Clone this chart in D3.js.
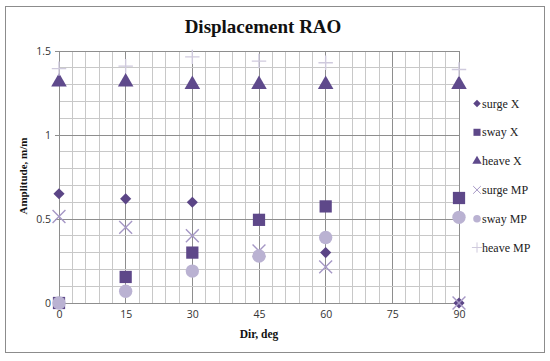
<!DOCTYPE html>
<html>
<head>
<meta charset="utf-8">
<script src="https://cdn.jsdelivr.net/npm/d3@7"></script>
<style>
  body { margin: 0; background: #fff; }
  .tick text { font-family: "Open Sans", sans-serif; font-size: 10.5px; fill: #333; }
  .ttl { font-family: "Liberation Serif", serif; font-weight: bold; fill: #111; }
  .leg { font-family: "Liberation Serif", serif; font-size: 12px; fill: #222; }
</style>
</head>
<body>
<div id="chart"></div>
<script>
// data
var dirs = [0, 15, 30, 45, 60, 90];
var surgeX  = [0.65, 0.62, 0.60, 0.50, 0.30, 0.0];
var swayX   = [0.0, 0.155, 0.30, 0.495, 0.575, 0.625];
var heaveX  = [1.315, 1.315, 1.30, 1.30, 1.30, 1.30];
var surgeMP = [0.515, 0.45, 0.40, 0.31, 0.215, 0.0];
var swayMP  = [0.0, 0.07, 0.19, 0.28, 0.39, 0.51];
var heaveMP = [1.395, 1.41, 1.465, 1.44, 1.43, 1.39];
var xTicks = [0, 15, 30, 45, 60, 75, 90];
var yTicks = [0, 0.5, 1, 1.5];

// kind: "fill" = solid shape, "line" = stroked shape, rot = rotation
var series = [
  {name: "surge X",  vals: surgeX,  sym: d3.symbolSquare,   kind: "fill", rot: 45, color: "#5b4586", size: 62, lsize: 28},
  {name: "sway X",   vals: swayX,   sym: d3.symbolSquare,   kind: "fill", rot: 0,  color: "#5e4889", size: 150, lsize: 50},
  {name: "heave X",  vals: heaveX,  sym: d3.symbolTriangle, kind: "fill", rot: 0,  color: "#5f4a8c", size: 105, lsize: 38},
  {name: "surge MP", vals: surgeMP, sym: d3.symbolX,        kind: "line", rot: 0,  color: "#a597c5", size: 110, lsize: 40},
  {name: "sway MP",  vals: swayMP,  sym: d3.symbolCircle,   kind: "fill", rot: 0,  color: "#bab2d2", size: 140, lsize: 45},
  {name: "heave MP", vals: heaveMP, sym: d3.symbolPlus,     kind: "line", rot: 0,  color: "#cfcadd", size: 70, lsize: 36}
];

var W = 550, H = 361;
var svg = d3.select("#chart").append("svg")
    .attr("width", W).attr("height", H);

// outer frame
svg.append("rect")
    .attr("x", 5.5).attr("y", 6.5)
    .attr("width", 539).attr("height", 346)
    .attr("fill", "#fff").attr("stroke", "#8c8c8c").attr("stroke-width", 1);

var x = d3.scaleLinear().domain([0, 90]).range([59, 459]);
var y = d3.scaleLinear().domain([0, 1.5]).range([303, 51]);

// grid: minor every 3 deg / 0.1, major every 15 deg / 0.5
var g = svg.append("g");
g.selectAll(".vmin").data(d3.range(0, 91, 3)).enter().append("line")
    .attr("x1", function(d) { return x(d); }).attr("x2", function(d) { return x(d); })
    .attr("y1", y(0)).attr("y2", y(1.5))
    .attr("stroke", function(d) { return d % 15 == 0 ? "#8e8e8e" : "#c8c8c8"; })
    .attr("stroke-width", 1)
    .attr("shape-rendering", "crispEdges");
g.selectAll(".hmin").data(d3.range(0, 16)).enter().append("line")
    .attr("y1", function(d) { return y(d / 10); }).attr("y2", function(d) { return y(d / 10); })
    .attr("x1", x(0)).attr("x2", x(90))
    .attr("stroke", function(d) { return d % 5 == 0 ? "#8e8e8e" : "#c8c8c8"; })
    .attr("stroke-width", 1)
    .attr("shape-rendering", "crispEdges");

// axes
var xAxis = svg.append("g")
    .attr("transform", "translate(0," + y(0) + ")")
    .call(d3.axisBottom(x).tickValues(xTicks).tickSize(0).tickPadding(8));
xAxis.select(".domain").attr("stroke", "#8e8e8e");

var yAxis = svg.append("g")
    .attr("transform", "translate(" + x(0) + ",0)")
    .call(d3.axisLeft(y).tickValues(yTicks).tickSize(4).tickPadding(4)
        .tickFormat(function(d) { return d; }));
yAxis.select(".domain").attr("stroke", "#8e8e8e");
yAxis.selectAll(".tick line").attr("stroke", "#8e8e8e");

// titles
svg.append("text").attr("class", "ttl")
    .attr("x", 263).attr("y", 33)
    .attr("text-anchor", "middle")
    .style("font-size", "19px")
    .text("Displacement RAO");

svg.append("text").attr("class", "ttl")
    .attr("x", 259).attr("y", 338)
    .attr("text-anchor", "middle")
    .style("font-size", "11.5px")
    .text("Dir, deg");

svg.append("text").attr("class", "ttl")
    .attr("transform", "translate(27,176) rotate(-90)")
    .attr("text-anchor", "middle")
    .style("font-size", "11px")
    .text("Amplitude, m/m");

function styleMark(sel, s) {
    if (s.kind == "line") {
        sel.attr("fill", "none").attr("stroke", s.color).attr("stroke-width", 1.4);
    } else {
        sel.attr("fill", s.color).attr("stroke", "none");
    }
}

// markers
series.forEach(function(s) {
    var sym = d3.symbol().type(s.sym).size(s.size);
    var pts = svg.append("g").selectAll("path").data(s.vals).enter().append("path")
        .attr("d", sym)
        .attr("transform", function(d, i) {
            return "translate(" + x(dirs[i]) + "," + y(d) + ") rotate(" + s.rot + ")";
        });
    styleMark(pts, s);
});

// legend
var leg = svg.append("g");
series.forEach(function(s, i) {
    var ly = 103.5 + i * 28.8;
    var m = leg.append("path")
        .attr("d", d3.symbol().type(s.sym).size(s.lsize))
        .attr("transform", "translate(477," + ly + ") rotate(" + s.rot + ")");
    styleMark(m, s);
    if (s.kind == "line") m.attr("stroke-width", 1);
    leg.append("text").attr("class", "leg")
        .attr("x", 482).attr("y", ly + 4)
        .text(s.name);
});
</script>
</body>
</html>
